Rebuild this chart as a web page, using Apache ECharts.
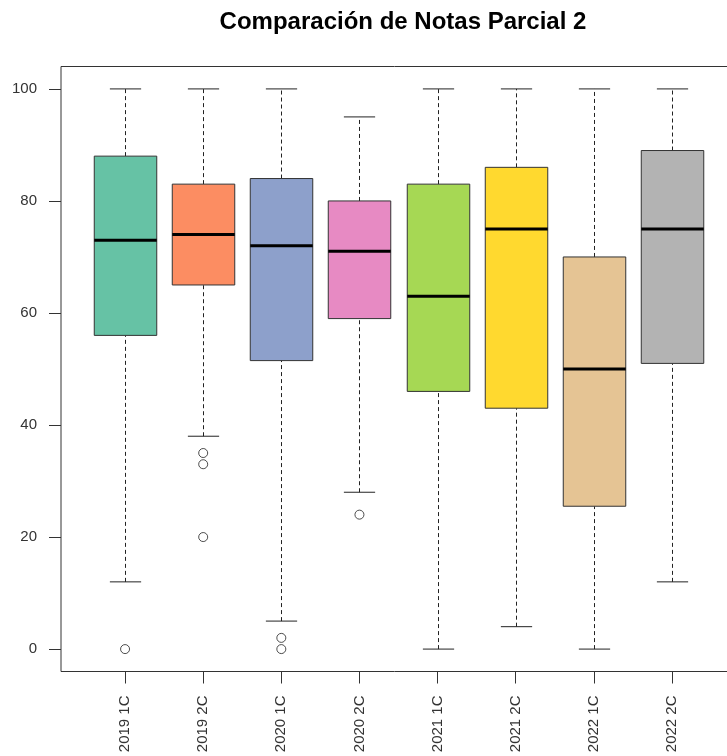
<!DOCTYPE html>
<html>
<head>
<meta charset="utf-8">
<script src="https://cdn.jsdelivr.net/npm/echarts@6/dist/echarts.min.js"></script>
<style>html,body{margin:0;padding:0;background:#fff}#c{width:727px;height:756px}</style>
</head>
<body>
<div id="c"></div>
<script>
const categories = ['2019 1C','2019 2C','2020 1C','2020 2C','2021 1C','2021 2C','2022 1C','2022 2C'];
const whiskerLow  = [12, 38, 5, 28, 0, 4, 0, 12];
const q1          = [56, 65, 51.5, 59, 46, 43, 25.5, 51];
const median      = [73, 74, 72, 71, 63, 75, 50, 75];
const q3          = [88, 83, 84, 80, 83, 86, 70, 89];
const whiskerHigh = [100, 100, 100, 95, 100, 100, 100, 100];
const outlierGroup = [1, 2, 2, 2, 3, 3, 4];
const outlierValue = [0, 35, 33, 20, 2, 0, 24];
const yTicks = [0, 20, 40, 60, 80, 100];

const palette = ['#66C2A5','#FC8D62','#8DA0CB','#E78AC3','#A6D854','#FFD92F','#E5C494','#B3B3B3'];
const font = 'Liberation Sans, Arial, sans-serif';

const boxData = categories.map((c, i) => [i + 1, whiskerLow[i], q1[i], median[i], q3[i], whiskerHigh[i]]);
const outData = outlierGroup.map((g, i) => [g, outlierValue[i]]);

function renderBox(params, api) {
  const x = api.value(0);
  const lo = api.coord([x, api.value(1)]);
  const b1 = api.coord([x, api.value(2)]);
  const md = api.coord([x, api.value(3)]);
  const b3 = api.coord([x, api.value(4)]);
  const hi = api.coord([x, api.value(5)]);
  const bw = api.size([0.8, 0])[0];
  const cw = bw / 2;
  const cx = Math.round(lo[0]) + 0.5;
  const idx = params.dataIndex;
  const dash = { stroke: '#222', lineWidth: 1, lineDash: [4, 3] };
  const solid = { stroke: '#222', lineWidth: 1 };
  return {
    type: 'group',
    children: [
      { type: 'line', shape: { x1: cx, y1: b3[1], x2: cx, y2: hi[1] }, style: dash },
      { type: 'line', shape: { x1: cx, y1: lo[1], x2: cx, y2: b1[1] }, style: dash },
      { type: 'line', shape: { x1: cx - cw / 2, y1: hi[1], x2: cx + cw / 2, y2: hi[1] }, style: solid },
      { type: 'line', shape: { x1: cx - cw / 2, y1: lo[1], x2: cx + cw / 2, y2: lo[1] }, style: solid },
      { type: 'rect', shape: { x: cx - bw / 2, y: b3[1], width: bw, height: b1[1] - b3[1] },
        style: { fill: palette[idx], stroke: '#333', lineWidth: 1 } },
      { type: 'line', shape: { x1: cx - bw / 2, y1: md[1], x2: cx + bw / 2, y2: md[1] },
        style: { stroke: '#000', lineWidth: 3 } }
    ]
  };
}

const chart = echarts.init(document.getElementById('c'), null, { renderer: 'canvas' });
chart.setOption({
  animation: false,
  backgroundColor: '#fff',
  title: {
    text: 'Comparación de Notas Parcial 2',
    left: 398, textAlign: 'center', top: 5,
    textStyle: { fontFamily: font, fontSize: 24, fontWeight: 'bold', color: '#000' }
  },
  grid: {
    left: 61, top: 66.5, width: 675, height: 605,
    outerBoundsMode: 'none', containLabel: false,
    show: true, borderColor: '#333', borderWidth: 1, backgroundColor: 'transparent'
  },
  xAxis: {
    type: 'value', min: 0.18, max: 8.82,
    splitLine: { show: false },
    axisLine: { show: false, onZero: false },
    axisTick: { show: true, length: 12, lineStyle: { color: '#333' }, customValues: [1,2,3,4,5,6,7,8] },
    axisLabel: {
      show: true, rotate: 90, margin: 24, fontSize: 15, color: '#333', fontFamily: font,
      customValues: [1,2,3,4,5,6,7,8],
      formatter: v => categories[Math.round(v) - 1]
    }
  },
  yAxis: {
    type: 'value', min: -4, max: 104,
    splitLine: { show: false },
    axisLine: { show: false, onZero: false },
    axisTick: { show: true, length: 12, lineStyle: { color: '#333' }, customValues: yTicks },
    axisLabel: { show: true, margin: 24, fontSize: 15, color: '#333', fontFamily: font, customValues: yTicks }
  },
  series: [
    {
      type: 'custom',
      renderItem: renderBox,
      data: boxData,
      encode: { x: 0, y: [1, 2, 3, 4, 5] },
      z: 2
    },
    {
      type: 'scatter',
      data: outData,
      symbol: 'circle',
      symbolSize: 9,
      itemStyle: { color: '#fff', borderColor: '#222', borderWidth: 1 },
      z: 3
    }
  ]
});
</script>
</body>
</html>
